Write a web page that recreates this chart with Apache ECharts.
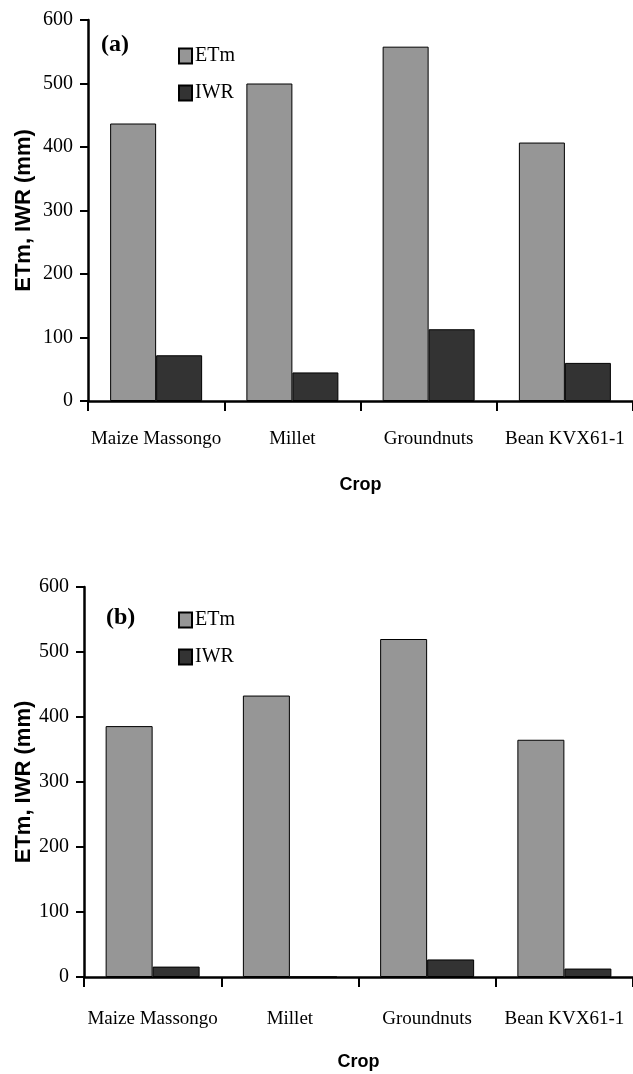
<!DOCTYPE html>
<html>
<head>
<meta charset="utf-8">
<script src="https://cdn.jsdelivr.net/npm/echarts@6/dist/echarts.min.js"></script>
<style>
html,body{margin:0;padding:0;background:#fff;}
#c{width:633px;height:1074px;}
</style>
</head>
<body>
<div id="c"></div>
<script>
const categories = ['Maize Massongo', 'Millet', 'Groundnuts', 'Bean KVX61-1'];
const seriesNames = ['ETm', 'IWR'];
const aETm = [437, 500, 558, 407];
const aIWR = [72, 45, 113, 60];
const bETm = [386, 433, 520, 365];
const bIWR = [16, 0, 27, 13];
const yTicks = [0, 100, 200, 300, 400, 500, 600];
const panelLabels = ['(a)', '(b)'];
const yName = 'ETm, IWR (mm)';
const xName = 'Crop';

const serif = '"Liberation Serif", "Times New Roman", serif';
const sans = '"Liberation Sans", Arial, sans-serif';
const colETm = '#969696', colIWR = '#333333';

const chart = echarts.init(document.getElementById('c'), null, {renderer: 'canvas'});

function xAxis(gi, margin, gap) {
  return {
    type: 'category', gridIndex: gi, data: categories,
    boundaryGap: true,
    axisLine: {lineStyle: {color: '#000', width: 2.5}},
    axisTick: {show: true, length: 10, inside: false, alignWithLabel: false, lineStyle: {color: '#000', width: 2}},
    axisLabel: {color: '#000', fontFamily: serif, fontSize: 19, margin: margin, interval: 0},
    name: xName, nameLocation: 'middle', nameGap: gap, nameMoveOverlap: false,
    nameTextStyle: {color: '#000', fontFamily: sans, fontWeight: 'bold', fontSize: 18}
  };
}
function yAxis(gi, gap) {
  return {
    type: 'value', gridIndex: gi, min: yTicks[0], max: yTicks[yTicks.length - 1], interval: 100,
    splitLine: {show: false},
    axisLine: {show: true, lineStyle: {color: '#000', width: 2.5}},
    axisTick: {show: true, length: 8, lineStyle: {color: '#000', width: 2}},
    axisLabel: {color: '#000', fontFamily: serif, fontSize: 20, margin: 15},
    name: yName, nameLocation: 'middle', nameGap: gap, nameRotate: 90, nameMoveOverlap: false,
    nameTextStyle: {color: '#000', fontFamily: sans, fontWeight: 'bold', fontSize: 22}
  };
}
function bar(name, data, gi, color, w) {
  return {
    type: 'bar', name: name, data: data, xAxisIndex: gi, yAxisIndex: gi,
    barWidth: w, barGap: '0%',
    itemStyle: {color: color, borderColor: '#000', borderWidth: 1},
    emphasis: {disabled: true}, animation: false
  };
}
function legend(top, left) {
  return {
    data: seriesNames, orient: 'vertical', left: left, top: top,
    icon: 'rect', itemWidth: 13, itemHeight: 15, itemGap: 17,
    textStyle: {color: '#000', fontFamily: serif, fontSize: 20, padding: [0, 0, 0, -2]},
    selectedMode: false
  };
}

chart.setOption({
  animation: false,
  backgroundColor: '#fff',
  grid: [
    {left: 88, top: 20, width: 551, height: 381},
    {left: 84, top: 587, width: 556, height: 390}
  ],
  xAxis: [xAxis(0, 29, 75), xAxis(1, 33, 76)],
  yAxis: [yAxis(0, 53), yAxis(1, 49)],
  legend: [legend(41, 173), legend(605, 173)],
  graphic: [
    {type: 'text', left: 101, top: 33, style: {text: panelLabels[0], fontFamily: serif, fontWeight: 'bold', fontSize: 24, fill: '#000'}},
    {type: 'text', left: 106, top: 606, style: {text: panelLabels[1], fontFamily: serif, fontWeight: 'bold', fontSize: 24, fill: '#000'}}
  ],
  series: [
    bar(seriesNames[0], aETm, 0, colETm, 46),
    bar(seriesNames[1], aIWR, 0, colIWR, 46),
    bar(seriesNames[0], bETm, 1, colETm, 47),
    bar(seriesNames[1], bIWR, 1, colIWR, 47)
  ]
});
</script>
</body>
</html>
